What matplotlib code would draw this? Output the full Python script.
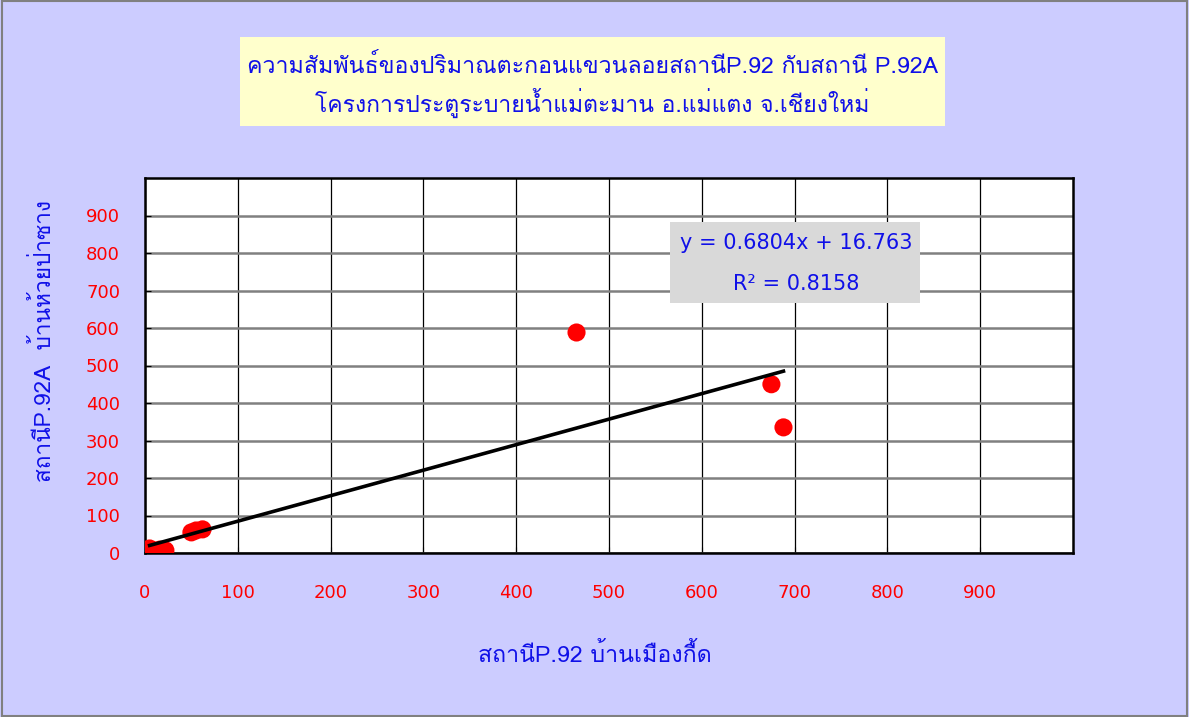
import numpy as np
import matplotlib.pyplot as plt
from matplotlib.patches import Rectangle

# sediment data
x_p92 = [5, 10, 16, 22, 50, 55, 62, 465, 675, 688]
y_p92a = [12, 6, 9, 7, 55, 60, 63, 588, 450, 335]

slope = 0.6804
intercept = 16.763
r2 = 0.8158

ticks = [0, 100, 200, 300, 400, 500, 600, 700, 800, 900]

title1 = 'ความสัมพันธ์ของปริมาณตะกอนแขวนลอยสถานีP.92 กับสถานี P.92A'
title2 = 'โครงการประตูระบายน้ำแม่ตะมาน อ.แม่แตง จ.เชียงใหม่'
xlabel = 'สถานีP.92 บ้านเมืองกื้ด'
ylabel = 'สถานีP.92A  บ้านห้วยป่าซาง'

plt.rcParams['font.family'] = ['DejaVu Sans']
thai = ['Loma', 'DejaVu Sans']
blue = '#1010E8'

fig = plt.figure(figsize=(11.89, 7.17), dpi=100, facecolor='#CCCCFF')
fig.patches.append(Rectangle((0.002, 0.002), 0.996, 0.996, transform=fig.transFigure,
                             fill=False, edgecolor='#808080', lw=1.5))

# title box
fig.patches.append(Rectangle((240/1189, 1-126/717), 705/1189, 89/717, transform=fig.transFigure,
                             facecolor='#FFFFCC', edgecolor='none'))
fig.text(593/1189, 1-66/717, title1, ha='center', va='center', fontsize=16.7, color=blue,
         family=thai)
fig.text(592/1189, 1-103/717, title2, ha='center', va='center', fontsize=16.5, color=blue,
         family=thai)

ax = fig.add_axes([145/1189, 1-553/717, 928/1189, 375/717])
ax.set_facecolor('white')
ax.set_xlim(0, 1000)
ax.set_ylim(0, 1000)
ax.set_xticks(ticks)
ax.set_yticks(ticks)
ax.xaxis.grid(True, color='black', lw=0.9)
ax.yaxis.grid(True, color='#808080', lw=1.8)
ax.set_axisbelow(True)
for s in ax.spines.values():
    s.set_linewidth(1.8)
ax.tick_params(axis='both', direction='in', length=4, colors='black', labelcolor='red',
               labelsize=13)
ax.tick_params(axis='x', pad=22)
ax.tick_params(axis='y', pad=18)

ax.scatter(x_p92, y_p92a, s=170, color='red', zorder=3, edgecolors='none')
xs = np.array([min(x_p92), max(x_p92)])
ax.plot(xs, slope*xs + intercept, color='black', lw=2.6, zorder=4)

ax.set_xlabel(xlabel, fontsize=16.7, color=blue, family=thai)
ax.set_ylabel(ylabel, fontsize=16.3, color=blue, family=thai)
ax.xaxis.set_label_coords(0.485, -0.24)
ax.yaxis.set_label_coords(-0.096, 0.565)

# trendline equation box
fig.patches.append(Rectangle((670/1189, 1-303/717), 250/1189, 81/717, transform=fig.transFigure,
                             facecolor='#D9D9D9', edgecolor='none', zorder=5))
fig.text(796/1189, 1-243/717, 'y = %.4fx + %.3f' % (slope, intercept), ha='center',
         va='center', fontsize=15, color=blue, zorder=6)
fig.text(796/1189, 1-284/717, 'R² = %.4f' % r2, ha='center', va='center',
         fontsize=15, color=blue, zorder=6)

fig.savefig('out.png', dpi=100, facecolor=fig.get_facecolor())
